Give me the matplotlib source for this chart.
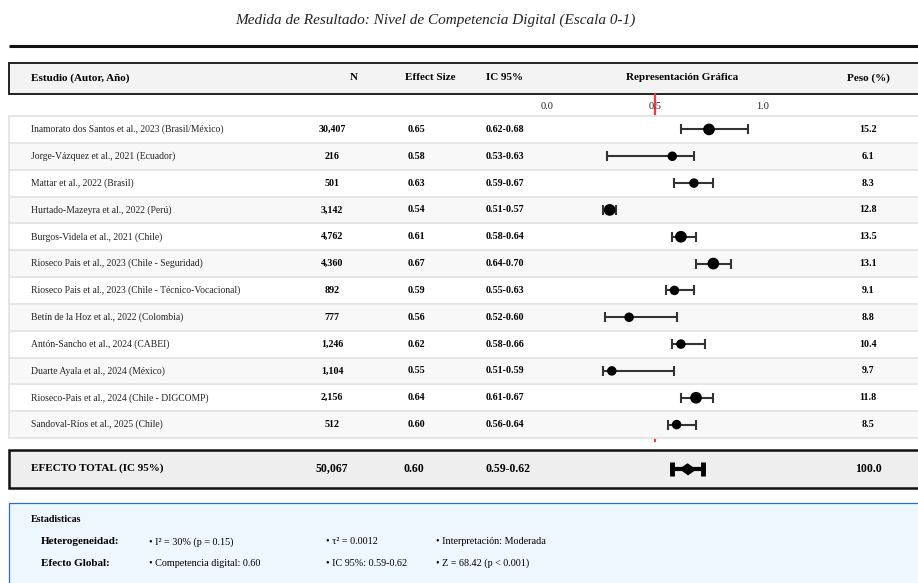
import numpy as np
import matplotlib
matplotlib.use("Agg")
import matplotlib.pyplot as plt
from matplotlib.patches import Rectangle
from matplotlib.transforms import blended_transform_factory

plt.rcParams['font.family'] = ['Liberation Serif', 'DejaVu Serif']

# datos de los estudios
studies = ["Inamorato dos Santos et al., 2023 (Brasil/México)",
           "Jorge-Vázquez et al., 2021 (Ecuador)",
           "Mattar et al., 2022 (Brasil)",
           "Hurtado-Mazeyra et al., 2022 (Perú)",
           "Burgos-Videla et al., 2021 (Chile)",
           "Rioseco Pais et al., 2023 (Chile - Seguridad)",
           "Rioseco Pais et al., 2023 (Chile - Técnico-Vocacional)",
           "Betín de la Hoz et al., 2022 (Colombia)",
           "Antón-Sancho et al., 2024 (CABEI)",
           "Duarte Ayala et al., 2024 (México)",
           "Rioseco-Pais et al., 2024 (Chile - DIGCOMP)",
           "Sandoval-Ríos et al., 2025 (Chile)"]
n_values = [30407, 216, 501, 3142, 4762, 4360, 892, 777, 1246, 1104, 2156, 512]
effects = [0.65, 0.58, 0.63, 0.54, 0.61, 0.67, 0.59, 0.56, 0.62, 0.55, 0.64, 0.60]
ci_low = [0.62, 0.53, 0.59, 0.51, 0.58, 0.64, 0.55, 0.52, 0.58, 0.51, 0.61, 0.56]
ci_high = [0.68, 0.63, 0.67, 0.57, 0.64, 0.70, 0.63, 0.60, 0.66, 0.59, 0.67, 0.64]
weights = np.array([15.2, 6.1, 8.3, 12.8, 13.5, 13.1, 9.1, 8.8, 10.4, 9.7, 11.8, 8.5])

# posiciones tal como aparecen en la representación gráfica (escala 0-1)
plot_lo = np.array([0.62, 0.28, 0.59, 0.26, 0.58, 0.69, 0.55, 0.27, 0.58, 0.26, 0.62, 0.56])
plot_est = np.array([0.75, 0.58, 0.68, 0.29, 0.62, 0.77, 0.59, 0.38, 0.62, 0.30, 0.69, 0.60])
plot_hi = np.array([0.93, 0.68, 0.77, 0.32, 0.69, 0.85, 0.68, 0.60, 0.73, 0.59, 0.77, 0.69])

total_n = 50067
total_es = 0.60
total_ci = (0.59, 0.62)
total_weight = 100.0
total_plot = (0.58, 0.65, 0.72)

axis_ticks = [0.0, 0.5, 1.0]
ref_value = 0.5

headers = ["Estudio (Autor, Año)", "N", "Effect Size", "IC 95%",
           "Representación Gráfica", "Peso (%)"]
het_items = ["• I² = 30% (p = 0.15)", "• τ² = 0.0012", "• Interpretación: Moderada"]
glob_items = ["• Competencia digital: 0.60", "• IC 95%: 0.59-0.62", "• Z = 68.42 (p < 0.001)"]

W, H = 918, 583
fig = plt.figure(figsize=(W / 100, H / 100), dpi=100)

# fondo en coordenadas de pixel
bg = fig.add_axes([0, 0, 1, 1])
bg.set_xlim(0, W)
bg.set_ylim(H, 0)
bg.axis('off')

bg.text(435, 20, "Medida de Resultado: Nivel de Competencia Digital (Escala 0-1)",
        ha='center', va='center', fontsize=11, style='italic', color='#222')
bg.plot([9, W + 5], [46, 46], color='#111', lw=2.2, solid_capstyle='butt')

bg.add_patch(Rectangle((9, 62.5), W, 31.5, facecolor='#f3f3f3', edgecolor='#222', lw=1.4))
hy = 78
hs = 8
bg.text(31, hy, headers[0], ha='left', va='center', fontsize=hs, weight='bold')
bg.text(354, hy, headers[1], ha='center', va='center', fontsize=hs, weight='bold')
bg.text(430, hy, headers[2], ha='center', va='center', fontsize=hs, weight='bold')
bg.text(486, hy, headers[3], ha='left', va='center', fontsize=hs, weight='bold')
bg.text(682, hy, headers[4], ha='center', va='center', fontsize=hs, weight='bold')
bg.text(868, hy, headers[5], ha='center', va='center', fontsize=hs, weight='bold')

# fila total
bg.add_patch(Rectangle((9, 449.5), W, 38.5, facecolor='#eeeeee', edgecolor='#111', lw=1.8))
ty = 468.5
bg.text(31, ty, "EFECTO TOTAL (IC 95%)", ha='left', va='center', fontsize=8, weight='bold')
bg.text(332, ty, f"{total_n:,}", ha='center', va='center', fontsize=8.5, weight='bold')
bg.text(414, ty, f"{total_es:.2f}", ha='center', va='center', fontsize=8.5, weight='bold')
bg.text(486, ty, f"{total_ci[0]:.2f}-{total_ci[1]:.2f}", ha='left', va='center',
        fontsize=8.5, weight='bold')
bg.text(868, ty, f"{total_weight:.1f}", ha='center', va='center', fontsize=8.5, weight='bold')

# caja de estadísticas
bg.add_patch(Rectangle((9, 502.5), W, 100, facecolor='#eef6fe', edgecolor='#2a6fc9', lw=0.9))
bg.text(31, 520, "Estadisticas", ha='left', va='center', fontsize=7.2, weight='bold')
bg.text(41, 542, "Heterogeneidad:", ha='left', va='center', fontsize=8, weight='bold')
bg.text(41, 563, "Efecto Global:", ha='left', va='center', fontsize=8, weight='bold')
for x, s in zip([149, 326, 436], het_items):
    bg.text(x, 542, s, ha='left', va='center', fontsize=7.3)
for x, s in zip([149, 326, 436], glob_items):
    bg.text(x, 563, s, ha='left', va='center', fontsize=7.3)

# eje del forest plot
row_top, row_bot = 116, 438
nrows = len(studies)
ax = fig.add_axes([547 / W, 1 - row_bot / H, 216 / W, (row_bot - row_top) / H])
ax.set_xlim(0, 1)
ax.set_ylim(nrows - 0.5, -0.5)
ax.patch.set_visible(False)
for sp in ax.spines.values():
    sp.set_visible(False)
ax.xaxis.tick_top()
ax.set_xticks(axis_ticks)
ax.set_xticklabels([f"{t:.1f}" for t in axis_ticks])
ax.tick_params(axis='x', length=0, pad=3.5, labelsize=7.5, labelcolor='#222')
ax.set_yticks([])

tr = blended_transform_factory(bg.transData, ax.transData)
row_px = (row_bot - row_top) / nrows
ypos = np.arange(nrows)

# línea de referencia (queda parcialmente tapada por las filas)
ax.plot([ref_value, ref_value], [-0.5 - 22 / row_px, nrows - 0.4], color='#f03a3a',
        lw=1.6, zorder=0.5, clip_on=False)

fs = 6.9
for i in ypos:
    fc = 'white' if i % 2 == 0 else '#f8f8f8'
    ax.add_patch(Rectangle((9, i - 0.5), W, 1, transform=tr, facecolor=fc,
                           edgecolor='none', zorder=1, clip_on=False))
    ax.plot([9, W + 5], [i + 0.5, i + 0.5], transform=tr, color='#e3e3e3', lw=1.3,
            zorder=1.5, clip_on=False)
    ax.text(31, i, studies[i], transform=tr, ha='left', va='center', fontsize=fs,
            color='#222', zorder=2)
    ax.text(332, i, f"{n_values[i]:,}", transform=tr, ha='center', va='center',
            fontsize=7.2, weight='bold', zorder=2)
    ax.text(416, i, f"{effects[i]:.2f}", transform=tr, ha='center', va='center',
            fontsize=7.2, weight='bold', zorder=2)
    ax.text(486, i, f"{ci_low[i]:.2f}-{ci_high[i]:.2f}", transform=tr, ha='left',
            va='center', fontsize=7.2, weight='bold', zorder=2)
    ax.text(868, i, f"{weights[i]:.1f}", transform=tr, ha='center', va='center',
            fontsize=7.2, weight='bold', zorder=2)
ax.plot([9, W + 5], [-0.5, -0.5], transform=tr, color='#e3e3e3', lw=1.3, zorder=1.5,
        clip_on=False)
ax.plot([9, 9], [-0.5, nrows - 0.5], transform=tr, color='#e3e3e3', lw=1.3, zorder=1.5,
        clip_on=False)

ax.errorbar(plot_est, ypos, xerr=[plot_est - plot_lo, plot_hi - plot_est], fmt='none',
            ecolor='#333', elinewidth=1.5, capsize=3.5, capthick=1.5, zorder=3,
            clip_on=False)
sizes = np.where(weights > 11, 55, 34)
ax.scatter(plot_est, ypos, s=sizes, color='black', zorder=4, clip_on=False)

# efecto total
total_y = (ty - row_top) / row_px - 0.5
ax.errorbar([total_plot[1]], [total_y],
            xerr=[[total_plot[1] - total_plot[0]], [total_plot[2] - total_plot[1]]],
            fmt='none', ecolor='black', elinewidth=3, capsize=5, capthick=3.5,
            zorder=3, clip_on=False)
ax.plot([total_plot[1]], [total_y], marker=[(-1.4, 0), (0, 1), (1.4, 0), (0, -1)],
        ms=11, color='black', zorder=4, clip_on=False)

fig.savefig("out.png", dpi=100)
